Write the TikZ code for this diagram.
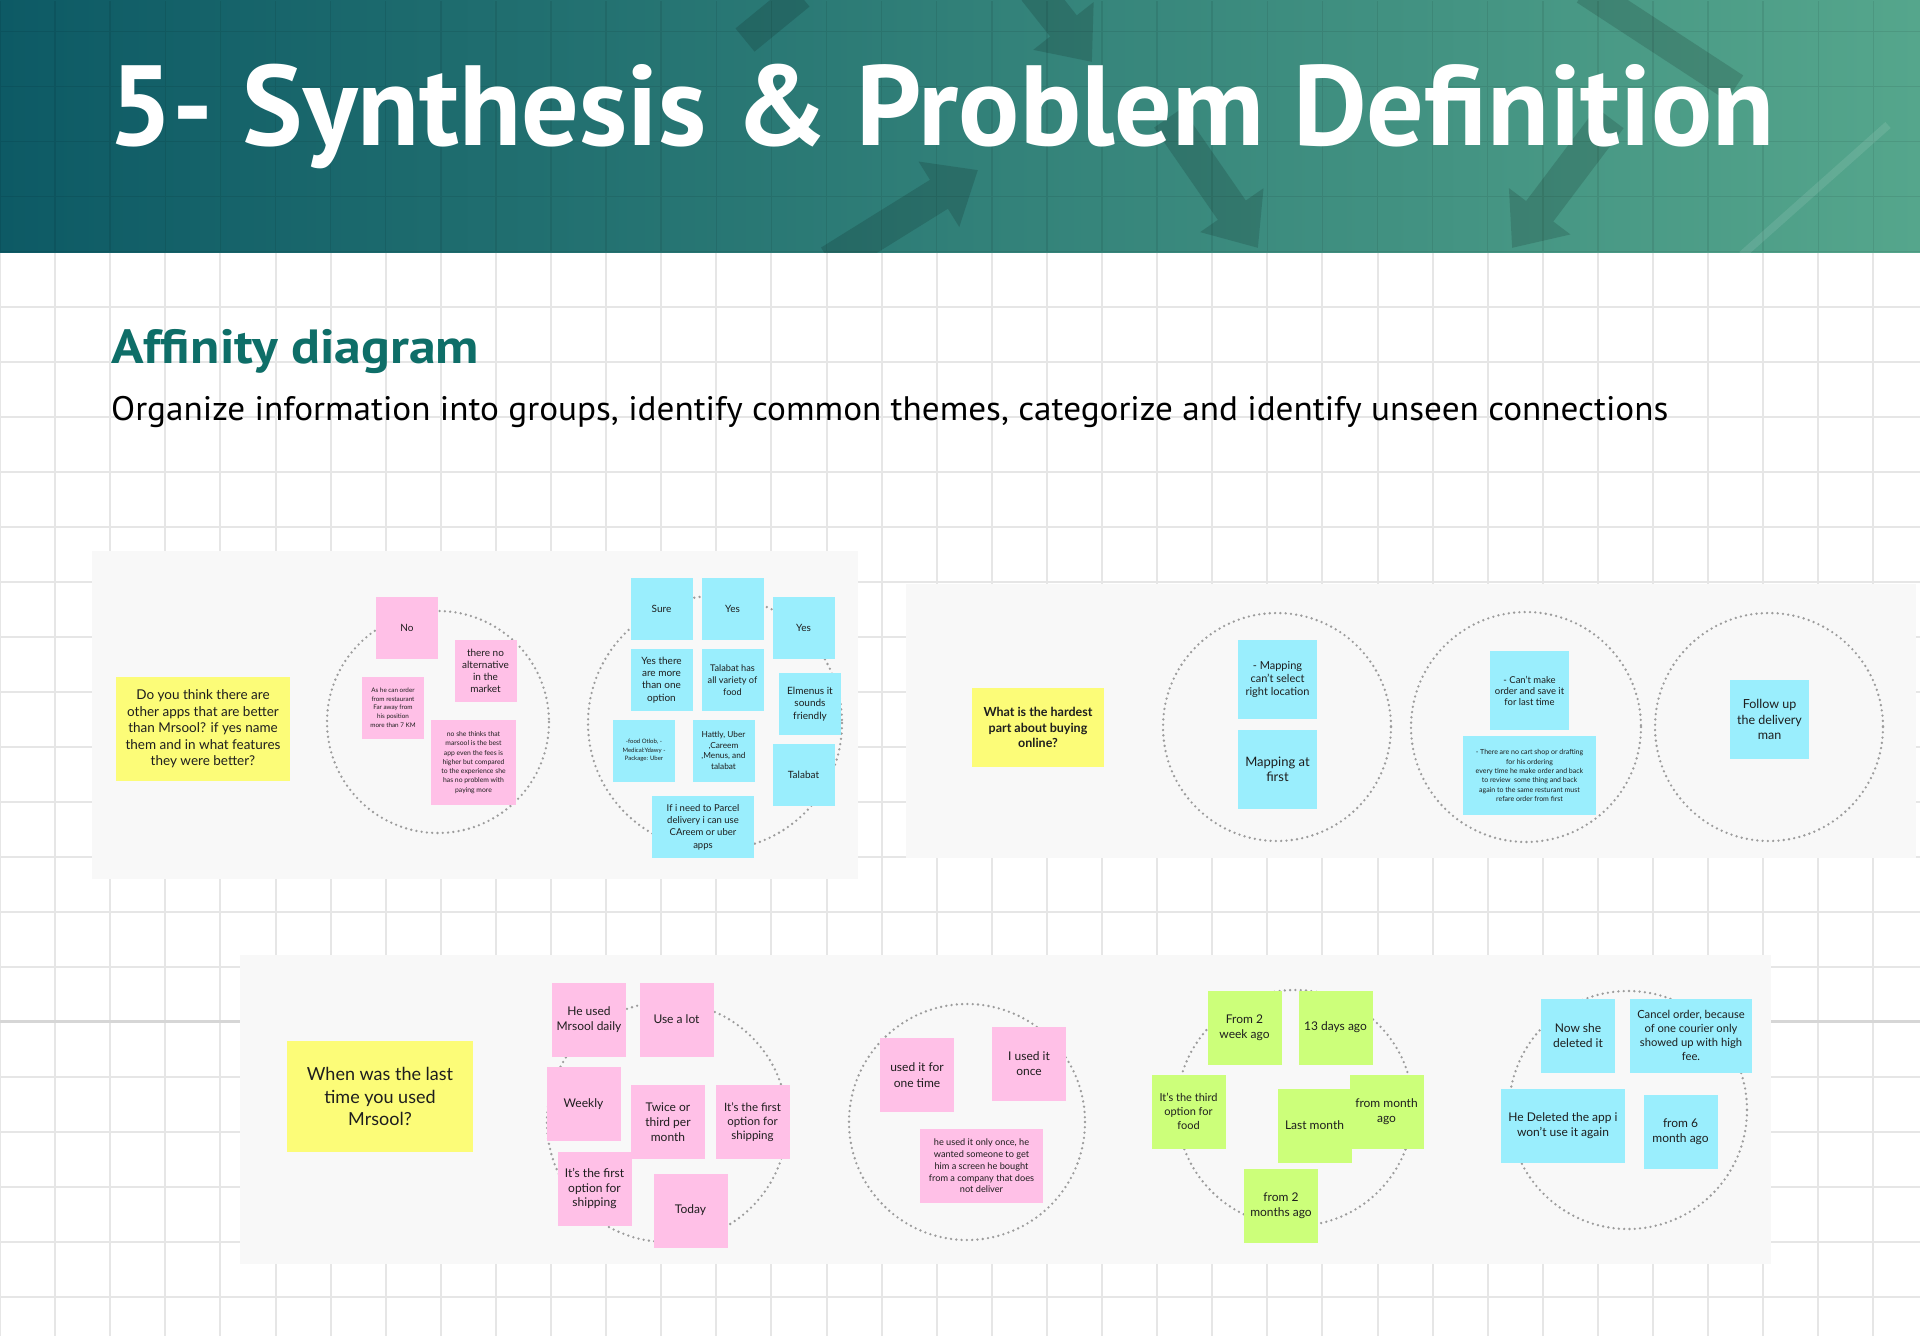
\documentclass[tikz,border=0pt]{standalone}
\usepackage{fontspec}
\setmainfont{Lato}
\newfontfamily\headfont{PT Sans}
\usetikzlibrary{arrows.meta}
\definecolor{headdark}{HTML}{0D5A65}
\definecolor{headlight}{HTML}{55A68C}
\definecolor{affteal}{HTML}{0E6E68}
\definecolor{gridgray}{HTML}{E6E6E6}
\definecolor{majorgray}{HTML}{D6D6D6}
\definecolor{panelgray}{HTML}{F8F8F8}
\definecolor{ringgray}{HTML}{9C9C9C}
\definecolor{notepink}{HTML}{FFC0E7}
\definecolor{notecyan}{HTML}{9AEEFD}
\definecolor{notegreen}{HTML}{CCFF7A}
\definecolor{noteyellow}{HTML}{FCFC78}
\definecolor{notetext}{HTML}{1E1E1E}
\newcommand{\notesize}[2]{\fontsize{#1}{#2}\selectfont}

\begin{document}
\begin{tikzpicture}[x=1pt,y=-1pt,
  note/.style={inner sep=0pt,align=center,text=notetext},
  pinknote/.style={note,fill=notepink},
  cyannote/.style={note,fill=notecyan},
  greennote/.style={note,fill=notegreen},
  yellownote/.style={note,fill=noteyellow},
  notesmall/.style={minimum size=62pt},
  notemid/.style={minimum size=74pt},
  notebig/.style={minimum size=79pt},
  ring/.style={draw=ringgray,line width=2.6pt,line cap=round,dash pattern=on 0pt off 5.3pt},
  panel/.style={fill=panelgray},
  gridline/.style={draw=gridgray,line width=2pt},
  bgarrow/.style={draw=black,line width=34pt,-{Triangle[width=74pt,length=46pt]}},
  bgbar/.style={draw=black,line width=30pt},
  headtext/.style={anchor=base west,inner sep=0pt}]
\useasboundingbox (0,0) rectangle (1920,1336);
\fill[white] (0,0) rectangle (1920,1336);
\begin{scope}[y=1pt,yshift=-31.5pt]
\draw[gridline,xstep=55.1pt,ystep=55pt] (0,-1305) grid (1920,-221);
\end{scope}
\draw[draw=majorgray,line width=2.2pt] (0,1021.5) -- (1920,1021.5);
\fill[left color=headdark,right color=headlight] (0,0) rectangle (1920,252);
\begin{scope}[y=1pt,yshift=-31.5pt]
\draw[draw=black,opacity=0.08,line width=1.5pt,xstep=55.1pt,ystep=55pt] (0,-220) grid (1920,31);
\end{scope}
\begin{scope}[transparency group,opacity=0.14]
\clip (0,0) rectangle (1920,252);
\draw[bgarrow] (830,262) -- (978,170);
\draw[bgarrow] (1035,-10) -- (1092,62);
\draw[bgarrow] (1168,118) -- (1258,248);
\draw[bgarrow] (1610,118) -- (1512,248);
\draw[bgbar] (1585,-10) -- (1735,88);
\draw[bgbar] (745,40) -- (800,-5);
\end{scope}
\begin{scope}
\clip (0,0) rectangle (1920,252);
\draw[draw=white,opacity=0.10,line width=8pt] (1742,255) -- (1888,125);
\end{scope}
\node[headtext,text=white,font=\headfont\bfseries\fontsize{114}{114}\selectfont] (title) at (108,145) {5- Synthesis \& Problem Definition};
\node[headtext,text=affteal,font=\headfont\bfseries\fontsize{48}{48}\selectfont] (heading) at (111,363) {\scalebox{1.12}[1]{Affinity diagram}};
\node[headtext,text=black,font=\headfont\fontsize{34}{34}\selectfont] (lead) at (111,420) {\scalebox{1.035}[1]{Organize information into groups, identify common themes, categorize and identify unseen connections}};

\fill[panel] (92,551) rectangle (858,879);
\draw[ring] (438,722) circle (111);
\draw[ring] (715,723) circle (127);
\node[yellownote,minimum width=174pt,minimum height=104pt,font=\notesize{13.5}{16.5}] (q1) at (203,729) {Do you think there are\\other apps that are better\\than Mrsool? if yes name\\them and in what features\\they were better?};
\node[pinknote,notesmall,font=\notesize{10}{12}] (n1) at (407,628) {No};
\node[pinknote,notesmall,font=\notesize{10}{12}] (n2) at (485.5,671) {there no\\alternative\\in the\\market};
\node[pinknote,notesmall,font=\notesize{6.3}{8.7}] (n3) at (393,707.5) {As he can order\\from restaurant\\Far away from\\his position\\more than 7 KM};
\node[pinknote,minimum size=85pt,font=\notesize{6.8}{9.3}] (n4) at (473.5,762.5) {no she thinks that\\marsool is the best\\app even the fees is\\higher but compared\\to the experience she\\has no problem with\\paying more};
\node[cyannote,notesmall,font=\notesize{10}{12.3}] (n5) at (661.5,609) {Sure};
\node[cyannote,notesmall,font=\notesize{10}{12.3}] (n6) at (732.5,609) {Yes};
\node[cyannote,notesmall,font=\notesize{10}{12.3}] (n7) at (803.5,628) {Yes};
\node[cyannote,notesmall,font=\notesize{10}{12.3}] (n8) at (661.5,680) {Yes there\\are more\\than one\\option};
\node[cyannote,notesmall,font=\notesize{9.2}{12.3}] (n9) at (732.5,680) {Talabat has\\all variety of\\food};
\node[cyannote,notesmall,font=\notesize{10}{12.3}] (n10) at (810,704) {Elmenus it\\sounds\\friendly};
\node[cyannote,notesmall,font=\notesize{6}{8.3}] (n11) at (644,750.5) {-food Otlob, -\\Medical:Ydawy -\\Package: Uber};
\node[cyannote,notesmall,font=\notesize{8.3}{10.7}] (n12) at (723.5,750.5) {Hattly, Uber\\,Careem\\,Menus, and\\talabat};
\node[cyannote,notesmall,font=\notesize{10}{12.3}] (n13) at (803.5,775) {Talabat};
\node[cyannote,minimum width=102pt,minimum height=62pt,font=\notesize{9.5}{12.3}] (n14) at (703,827) {If i need to Parcel\\delivery i can use\\CAreem or uber\\apps};

\fill[panel] (906,584) rectangle (1916,858);
\draw[ring] (1277,727) circle (114);
\draw[ring] (1526,727) circle (115);
\draw[ring] (1769,727) circle (114);
\node[yellownote,minimum width=132pt,minimum height=79pt,font=\bfseries\notesize{12.5}{15.7}] (q2) at (1038,727.5) {What is the hardest\\part about buying\\online?};
\node[cyannote,notebig,font=\notesize{11}{13.4}] (n15) at (1277.5,679.5) {- Mapping\\can't select\\right location};
\node[cyannote,notebig,font=\notesize{13}{15}] (n16) at (1277.5,769.5) {Mapping at\\first};
\node[cyannote,notebig,font=\notesize{9.5}{11}] (n17) at (1529.5,690.5) {- Can't make\\order and save it\\for last time};
\node[cyannote,minimum width=133pt,minimum height=79pt,font=\notesize{7}{9.3}] (n18) at (1529.5,775.5) {- There are no cart shop or drafting\\for his ordering\\every time he make order and back\\to review\ \ some thing and back\\again to the same resturant must\\refare order from first};
\node[cyannote,notebig,font=\notesize{12.5}{15.7}] (n19) at (1769.5,719.5) {Follow up\\the delivery\\man};

\fill[panel] (240,955) rectangle (1771,1264);
\draw[ring] (667,1122) circle (120);
\draw[ring] (967,1122) circle (118);
\draw[ring] (1295,1108) circle (118);
\draw[ring] (1628,1110) circle (119);
\node[yellownote,minimum width=186pt,minimum height=111pt,font=\notesize{18}{22.7}] (q3) at (380,1096.5) {When was the last\\time you used\\Mrsool?};
\node[pinknote,notemid,font=\notesize{12}{14.7}] (n20) at (589,1019.5) {He used\\Mrsool daily};
\node[pinknote,notemid,font=\notesize{12}{14.7}] (n21) at (676.5,1019.5) {Use a lot};
\node[pinknote,notemid,font=\notesize{12}{14.7}] (n22) at (583.5,1104) {Weekly};
\node[pinknote,notemid,font=\notesize{12}{14.7}] (n23) at (668,1122) {Twice or\\third per\\month};
\node[pinknote,notemid,font=\notesize{11.5}{14}] (n24) at (752.5,1122) {It's the first\\option for\\shipping};
\node[pinknote,notemid,font=\notesize{12}{14.7}] (n25) at (594.5,1188.5) {It's the first\\option for\\shipping};
\node[pinknote,notemid,font=\notesize{12}{14.7}] (n26) at (690.5,1210.5) {Today};
\node[pinknote,notemid,font=\notesize{12}{15.3}] (n27) at (917,1075) {used it for\\one time};
\node[pinknote,notemid,font=\notesize{12}{15.3}] (n28) at (1029,1063.5) {I used it\\once};
\node[pinknote,minimum width=123pt,minimum height=74pt,font=\notesize{9.2}{11.7}] (n29) at (981.5,1166) {he used it only once, he\\wanted someone to get\\him a screen he bought\\from a company that does\\not deliver};
\node[greennote,notemid,font=\notesize{12}{15}] (n30) at (1244.5,1027.5) {From 2\\week ago};
\node[greennote,notemid,font=\notesize{12}{15}] (n31) at (1335.5,1027.5) {13 days ago};
\node[greennote,notemid,font=\notesize{11}{13.7}] (n32) at (1188.5,1111.5) {It's the third\\option for\\food};
\node[greennote,notemid,font=\notesize{12}{15}] (n33) at (1314.5,1125.5) {Last month};
\node[greennote,notemid,font=\notesize{12}{15}] (n34) at (1386.5,1111.5) {from month\\ago};
\node[greennote,notemid,font=\notesize{12}{15}] (n35) at (1281,1206) {from 2\\months ago};
\node[cyannote,notemid,font=\notesize{12}{15}] (n36) at (1578,1035.5) {Now she\\deleted it};
\node[cyannote,minimum width=122pt,minimum height=74pt,font=\notesize{11.2}{14}] (n37) at (1691,1035.5) {Cancel order, because\\of one courier only\\showed up with high\\fee.};
\node[cyannote,minimum width=124pt,minimum height=74pt,font=\notesize{12}{15}] (n38) at (1563,1126) {He Deleted the app i\\won't use it again};
\node[cyannote,notemid,font=\notesize{12}{15}] (n39) at (1680.5,1131.5) {from 6\\month ago};
\end{tikzpicture}
\end{document}
